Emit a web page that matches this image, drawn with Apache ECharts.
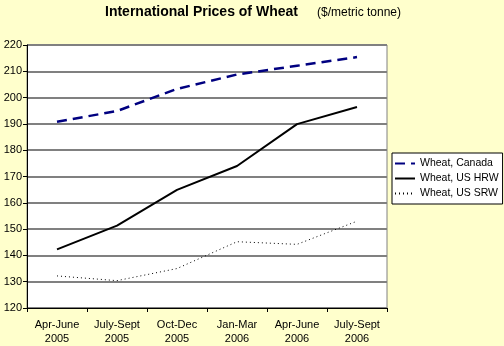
<!DOCTYPE html>
<html><head><meta charset="utf-8">
<script src="https://cdn.jsdelivr.net/npm/echarts@6/dist/echarts.min.js"></script>
<style>html,body{margin:0;padding:0;background:#FFFFCC;}#c{width:504px;height:346px;}</style>
</head><body><div id="c"></div>
<script>
const categories = ['Apr-June\n2005','July-Sept\n2005','Oct-Dec\n2005','Jan-Mar\n2006','Apr-June\n2006','July-Sept\n2006'];
const canada = [190.8, 194.9, 203.3, 208.8, 212.1, 215.4];
const usHRW = [142.3, 151.3, 164.9, 174.0, 189.9, 196.4];
const usSRW = [132.2, 130.4, 135.0, 145.2, 144.2, 153.0];
const seriesNames = ['Wheat, Canada','Wheat, US HRW','Wheat, US SRW'];

const chart = echarts.init(document.getElementById('c'), null, {renderer:'canvas'});
const font = 'Liberation Sans, Arial, sans-serif';
chart.setOption({
  backgroundColor: '#FFFFCC',
  animation: false,
  title: [
    {text: 'International Prices of Wheat', left: 100, top: 0,
     textStyle: {fontFamily: font, fontSize: 14, fontWeight: 'bold', color: '#000'}},
    {text: '($/metric tonne)', left: 312, top: 2,
     textStyle: {fontFamily: font, fontSize: 12, fontWeight: 'normal', color: '#000'}}
  ],
  grid: {left: 27, top: 45, width: 360, height: 266, backgroundColor: '#fff', show: true, borderColor: '#808080', borderWidth: 1},
  legend: {
    orient: 'vertical', left: 392, top: 153,
    backgroundColor: '#fff', borderColor: '#000', borderWidth: 1,
    padding: [5, 4, 5, 2], itemGap: 4, itemWidth: 20, itemHeight: 10,
    textStyle: {fontFamily: font, fontSize: 10.5, color: '#000'},
    itemStyle: {opacity: 0},
    data: seriesNames
  },
  xAxis: {
    type: 'category', data: categories, boundaryGap: true,
    axisLine: {lineStyle: {color: '#000', width: 1}},
    axisTick: {show: true, length: 4, lineStyle: {color: '#000'}},
    axisLabel: {fontFamily: font, fontSize: 11, color: '#000', lineHeight: 14, margin: 10, interval: 0}
  },
  yAxis: {
    type: 'value', min: 120, max: 220, interval: 10,
    axisLine: {show: true, lineStyle: {color: '#000', width: 1}},
    axisTick: {show: true, length: 4, lineStyle: {color: '#000'}},
    axisLabel: {fontFamily: font, fontSize: 11, color: '#000', margin: 5},
    splitLine: {show: true, lineStyle: {color: '#808080', width: 2}}
  },
  series: [
    {name: seriesNames[0], type: 'line', data: canada, symbol: 'none',
     lineStyle: {color: '#000080', width: 2.5, type: [10, 6]}, itemStyle: {color: '#000080'}},
    {name: seriesNames[1], type: 'line', data: usHRW, symbol: 'none',
     lineStyle: {color: '#000', width: 2}, itemStyle: {color: '#000'}},
    {name: seriesNames[2], type: 'line', data: usSRW, symbol: 'none',
     lineStyle: {color: '#000', width: 1, type: [1, 3]}, itemStyle: {color: '#000'}}
  ]
});
</script></body></html>
